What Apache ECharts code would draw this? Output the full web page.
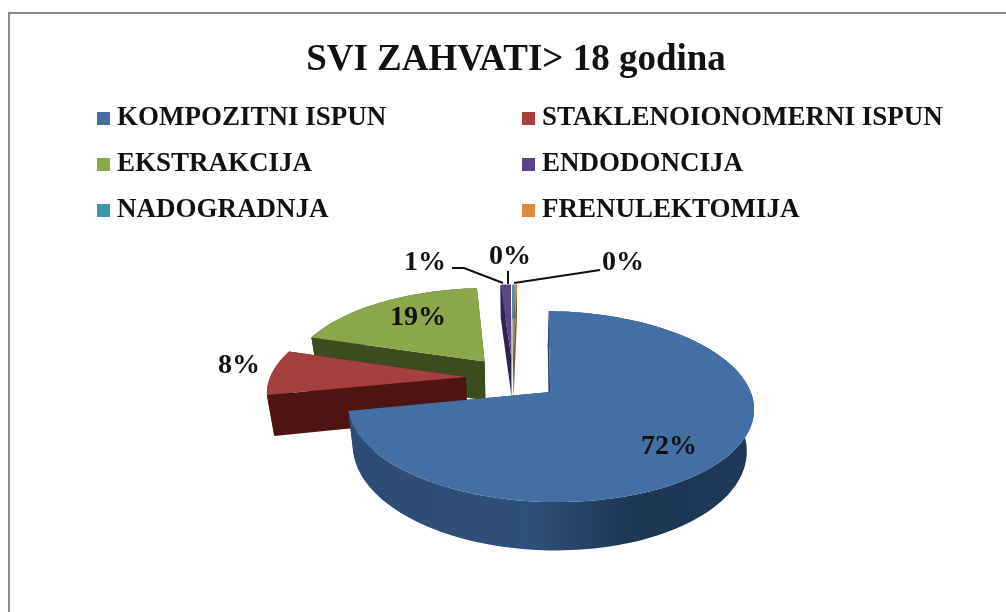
<!DOCTYPE html>
<html>
<head>
<meta charset="utf-8">
<style>
  html, body { margin: 0; padding: 0; background: #fff; }
  #chart { width: 1006px; height: 612px; }
</style>
<script src="https://cdn.jsdelivr.net/npm/echarts@6/dist/echarts.min.js"></script>
</head>
<body>
<div id="chart"></div>
<script>
var categories = ["KOMPOZITNI ISPUN", "STAKLENOIONOMERNI ISPUN", "EKSTRAKCIJA", "ENDODONCIJA", "NADOGRADNJA", "FRENULEKTOMIJA"];
var shares = [71.5, 8, 19.1, 1, 0.2, 0.2];
var topColors = ["#436fa4", "#a5403e", "#8aa74b", "#5c4488", "#3f95ad", "#e08a3c"];
var wallColors = ["#274468", "#4e1412", "#3b4d1e", "#2f2350", "#1d5566", "#8a4f1c"];
// painter order, back to front
var drawOrder = [5, 4, 3, 2, 1, 0];

// projection of the tilted pie
var cx = 513, cy = 378, rx = 196, ry = 89, tilt = 0.149;
var explode = 0.241, depth = 40, shrink = 0.97, startAngle = 1.2;

var labelPos = [[669, 447], [239, 366], [418, 318], [425, 263], [510, 257], [623, 263]];

var starts = [];
var total = shares.reduce(function (a, b) { return a + b; }, 0);
shares.reduce(function (acc, v, i) { starts[i] = acc; return acc + v; }, 0);

function project(u, v) {
  var s = 1 / (1 + tilt * v);
  return [cx + rx * u * s, cy - ry * v * s, s];
}
function lower(p) {
  return [cx + (p[0] - cx) * shrink, p[1] + depth * p[2]];
}

function renderSlice(i) {
  return function (params, api) {
    var value = api.value(0);
    var offset = startAngle * Math.PI / 180;
    var a0 = offset + starts[i] / total * Math.PI * 2;
    var a1 = offset + (starts[i] + value) / total * Math.PI * 2;
    var mid = (a0 + a1) / 2;
    var ou = explode * Math.sin(mid), ov = explode * Math.cos(mid);
    var n = Math.max(2, Math.ceil((a1 - a0) / 0.03));
    var arc = [];
    for (var k = 0; k <= n; k++) {
      var a = a0 + (a1 - a0) * k / n;
      arc.push(project(ou + Math.sin(a), ov + Math.cos(a)));
    }
    var apex = project(ou, ov);
    var xy = function (p) { return [p[0], p[1]]; };
    var top = [xy(apex)].concat(arc.map(xy));
    var arcLow = arc.map(lower);
    var wallOuter = arc.map(xy).concat(arcLow.slice().reverse());
    var wallA = [xy(apex), xy(arc[0]), arcLow[0], lower(apex)];
    var wallB = [xy(apex), xy(arc[n]), arcLow[n], lower(apex)];
    var outerFill = wallColors[i];
    if (i === 0) {
      outerFill = new echarts.graphic.LinearGradient(0, 0, 1, 0, [
        { offset: 0, color: "#2c4b75" },
        { offset: 0.45, color: "#2f5079" },
        { offset: 0.7, color: "#1d3654" },
        { offset: 1, color: "#1e3858" }
      ]);
    }
    var poly = function (pts, fill) {
      return { type: "polygon", shape: { points: pts }, style: { fill: fill } };
    };
    return {
      type: "group",
      children: [
        poly(wallA, wallColors[i]),
        poly(wallB, wallColors[i]),
        poly(wallOuter, outerFill),
        poly(top, topColors[i])
      ]
    };
  };
}

var seriesList = drawOrder.map(function (i, order) {
  return {
    name: categories[i],
    type: "custom",
    coordinateSystem: "none",
    z: 2 + order,
    silent: true,
    itemStyle: { color: topColors[i] },
    data: [[shares[i]]],
    encode: { value: 0 },
    renderItem: renderSlice(i)
  };
});

var serif = "'Liberation Serif', 'Times New Roman', serif";
var legendText = { fontFamily: serif, fontSize: 27, color: "#111", fontWeight: "bold", padding: [0, 0, 0, 2] };

var labels = shares.map(function (v, i) {
  return {
    type: "text",
    z: 20,
    x: labelPos[i][0],
    y: labelPos[i][1],
    style: {
      text: Math.round(v) + "%",
      fontFamily: serif,
      fontSize: 28,
      fontWeight: "bold",
      fill: "#111",
      align: "center",
      verticalAlign: "middle"
    }
  };
});

var leaderStyle = { stroke: "#111", lineWidth: 2, fill: null };
var leaders = [
  [[452, 268], [464, 268], [503, 283]],
  [[508, 271], [508, 284]],
  [[514, 283], [600, 270]]
].map(function (pts) {
  return { type: "polyline", z: 19, shape: { points: pts }, style: leaderStyle };
});

var chart = echarts.init(document.getElementById("chart"));
chart.setOption({
  animation: false,
  backgroundColor: "#fff",
  title: {
    text: "SVI ZAHVATI> 18 godina",
    left: 511,
    top: 37,
    textAlign: "center",
    textStyle: { fontFamily: serif, fontSize: 37, fontWeight: "bold", color: "#111" }
  },
  legend: [
    {
      data: [categories[0], categories[2], categories[4]],
      orient: "vertical",
      left: 92,
      top: 100,
      itemGap: 19,
      itemWidth: 13,
      itemHeight: 13,
      icon: "rect",
      selectedMode: false,
      textStyle: legendText
    },
    {
      data: [categories[1], categories[3], categories[5]],
      orient: "vertical",
      left: 517,
      top: 100,
      itemGap: 19,
      itemWidth: 13,
      itemHeight: 13,
      icon: "rect",
      selectedMode: false,
      textStyle: legendText
    }
  ],
  graphic: [
    {
      type: "rect",
      z: 1,
      shape: { x: 9, y: 13, width: 1100, height: 700 },
      style: { fill: "#fff", stroke: "#8a8a8a", lineWidth: 2 }
    }
  ].concat(leaders, labels),
  series: seriesList
});
</script>
</body>
</html>
